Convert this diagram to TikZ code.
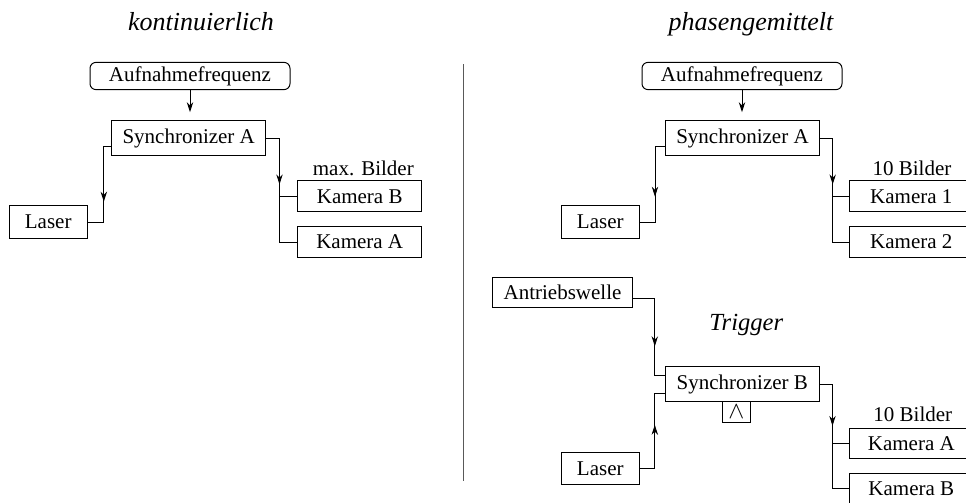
\documentclass[tikz,border=0pt]{standalone}
\usepackage{fontspec}
\setmainfont{Liberation Serif}
\usetikzlibrary{arrows.meta,calc,decorations.markings}

\begin{document}
\begin{tikzpicture}[x=0.5pt,y=-0.5pt,line width=0.5pt,
	>={Stealth[length=5pt,width=3.2pt]},
	font={\fontsize{10.5}{12.6}\selectfont},
	box/.style={draw,inner sep=2pt,minimum height=15.5pt},
	rbox/.style={box,rounded corners=3pt,minimum height=13.3pt,minimum width=100pt},
	sync/.style={box,minimum width=77pt,minimum height=17.6pt},
	kamera/.style={box,minimum width=62pt},
	titel/.style={font={\fontsize{13}{15}\selectfont\itshape},anchor=base},
	pfeil/.style={postaction={decorate},
		decoration={markings,mark=at position #1 with {\arrow{>}}}}]
	%% Rahmen
	\useasboundingbox (0,0) rectangle (966,503);
	\clip (0,0) rectangle (966,503);
	%% Ueberschriften
	\node[titel] (tk) at (201,31) {kontinuierlich};
	\node[titel] (tp) at (751,31) {phasengemittelt};
	\draw[gray!70!black,line width=0.7pt] (463.3,64.3) -- (463.3,480.7);
	
	%% kontinuierlich
	\node[rbox] (aufA) at (190,76) {Aufnahmefrequenz};
	\node[sync] (syncA) at (188.7,138.3) {Synchronizer A};
	\node[box,minimum width=39pt,minimum height=16.3pt] (laserA) at (48.2,222) {Laser};
	\node[kamera] (kamB) at (359.7,196.4) {Kamera B};
	\node[kamera] (kamA) at (359.7,242) {Kamera A};
	\node[anchor=base] (maxA) at (363.3,175) {max. Bilder};
	\coordinate (jLA) at ($(syncA.west)+(-7.4,8.4)$);
	\coordinate (jKA) at ($(syncA.east)+(13.3,0)$);
	\draw[->,shorten >=4pt] (aufA.south) -- (aufA.south |- syncA.north);
	\draw[pfeil=31.2pt] (jLA -| syncA.west) -- (jLA) |- (laserA.east);
	\draw[pfeil=29.7pt] (syncA.east) -- (jKA) |- (kamA.west);
	\draw (kamB.west) -- (kamB.west -| jKA);
	
	%% phasengemittelt
	\node[rbox] (aufP) at (742,76) {Aufnahmefrequenz};
	\node[sync] (syncP) at (742.5,138.3) {Synchronizer A};
	\node[box,minimum width=38.7pt,minimum height=16.3pt] (laserP) at (600.3,222) {Laser};
	\node[kamera] (kam1) at (911.3,196.4) {Kamera 1};
	\node[kamera] (kam2) at (911.3,242) {Kamera 2};
	\node[anchor=base] (anzP) at (912,175) {10 Bilder};
	\coordinate (jLP) at ($(syncP.west)+(-10,8.4)$);
	\coordinate (jKP) at ($(syncP.east)+(12.7,0)$);
	\draw[->,shorten >=4pt] (aufP.south) -- (aufP.south |- syncP.north);
	\draw[pfeil=30pt] (jLP -| syncP.west) -- (jLP) |- (laserP.east);
	\draw[pfeil=29.4pt] (syncP.east) -- (jKP) |- (kam2.west);
	\draw (kam1.west) -- (kam1.west -| jKP);
	
	%% Trigger
	\node[titel,font={\fontsize{12.3}{14}\selectfont\itshape}] (trig) at (746.3,330) {Trigger};
	\node[box,minimum width=69.8pt,minimum height=15pt] (welle) at (562.5,292.3) {Antriebswelle};
	\node[sync,minimum height=17.5pt] (syncB) at (742.3,384.2) {Synchronizer B};
	\node[draw,inner sep=0pt,minimum width=13.7pt,minimum height=10.5pt,
		font={\fontsize{11.5}{11.5}\selectfont}] (und) at (736.3,412.2) {$\wedge$};
	\node[box,minimum width=38.7pt,minimum height=15.7pt] (laserB) at (600.3,468.3) {Laser};
	\node[kamera,minimum height=15pt] (kamTA) at (911.3,443.3) {Kamera A};
	\node[kamera,minimum height=15pt] (kamTB) at (911.3,488.5) {Kamera B};
	\node[anchor=base] (anzT) at (912.8,421.7) {10 Bilder};
	\coordinate (jW) at ($(syncB.west)+(-10,-9.2)$);
	\coordinate (jS) at ($(syncB.west)+(-10,9.2)$);
	\coordinate (jKT) at ($(syncB.east)+(12.7,0)$);
	\draw[pfeil=35pt] ($(welle.east)+(0,6)$) -| (jW) -- (jW -| syncB.west);
	\draw[pfeil=29.4pt] (laserB.east) -| (jS) -- (jS -| syncB.west);
	\draw[pfeil=27.2pt] (syncB.east) -- (jKT) |- (kamTB.west);
	\draw (kamTA.west) -- (kamTA.west -| jKT);
\end{tikzpicture}
\end{document}
